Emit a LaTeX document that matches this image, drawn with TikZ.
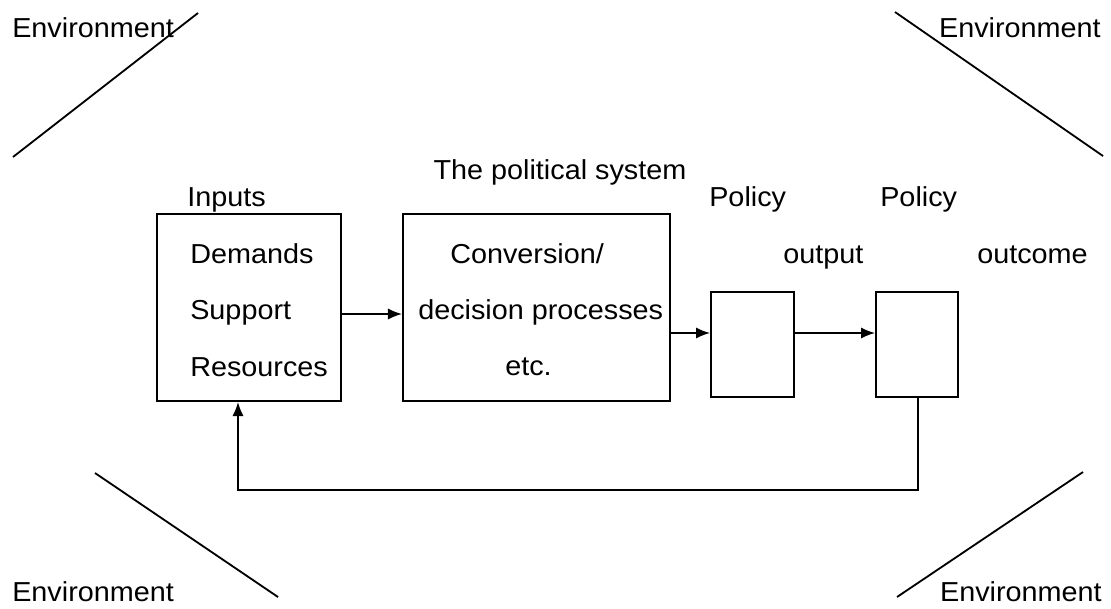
\documentclass[tikz,border=0pt]{standalone}
\usepackage{fontspec}
\setmainfont[FakeStretch=1.05]{Liberation Sans}
\usetikzlibrary{arrows.meta}

\begin{document}
\begin{tikzpicture}[x=0.025cm, y=-0.025cm,
    lbl/.style={font=\fontsize{19.5}{22}\selectfont, inner sep=0pt, text height=13.9pt, text depth=0pt},
    blk/.style={draw, line width=1.3pt, inner sep=0pt},
    arr/.style={-{Latex[length=10pt,width=8pt]}, line width=1.3pt}]
        \useasboundingbox (0,0) rectangle (1111,608);

        % Environment corners
        \node[lbl, anchor=west] (envtl) at (12,28) {Environment};
        \node[lbl, anchor=east] (envtr) at (1101,28) {Environment};
        \node[lbl, anchor=west] (envbl) at (12,592) {Environment};
        \node[lbl, anchor=east] (envbr) at (1102,592) {Environment};
        \draw[line width=1.3pt] (13,157) -- (198,13);
        \draw[line width=1.3pt] (895,12) -- (1103,156);
        \draw[line width=1.3pt] (95,473) -- (278,597);
        \draw[line width=1.3pt] (897,597) -- (1083,472);

        % Title
        \node[lbl] (title) at (560,170) {The political system};

        % Boxes
        \node[blk, minimum width=4.6cm, minimum height=4.675cm] (inputs) at (249,307.5) {};
        \node[blk, minimum width=6.675cm, minimum height=4.675cm] (conv) at (536.5,307.5) {};
        \node[blk, minimum width=2.075cm, minimum height=2.625cm] (output) at (752.5,344.5) {};
        \node[blk, minimum width=2.05cm, minimum height=2.625cm] (outcome) at (917,344.5) {};

        % Input labels
        \node[lbl, anchor=west] (inlbl) at (187,197) {Inputs};
        \node[lbl, anchor=west] (dem) at (190,254) {Demands};
        \node[lbl, anchor=west] (sup) at (190,310) {Support};
        \node[lbl, anchor=west] (res) at (190,367) {Resources};

        % Conversion labels
        \node[lbl, anchor=west] (conv1) at (450,254) {Conversion/};
        \node[lbl, anchor=west] (conv2) at (418,310) {decision processes};
        \node[lbl, anchor=west] (conv3) at (505,366) {etc.};

        % Policy labels
        \node[lbl, anchor=west] (pol1) at (709,197) {Policy};
        \node[lbl, anchor=west] (pol2) at (880,197) {Policy};
        \node[lbl, anchor=west] (outlbl) at (783,254) {output};
        \node[lbl, anchor=west] (occlbl) at (977,254) {outcome};

        % Connections
        \draw[arr] (inputs.east |- 0,314) -- (conv.west |- 0,314);
        \draw[arr] (conv.east |- 0,333) -- (output.west |- 0,333);
        \draw[arr] (output.east |- 0,333) -- (outcome.west |- 0,333);

        % Feedback
        \coordinate (fbr) at (918,490);
        \coordinate (fbl) at (238,490);
        \draw[arr] (fbr |- outcome.south) -- (fbr) -- (fbl) -- (fbl |- inputs.south);
    \end{tikzpicture}
\end{document}
